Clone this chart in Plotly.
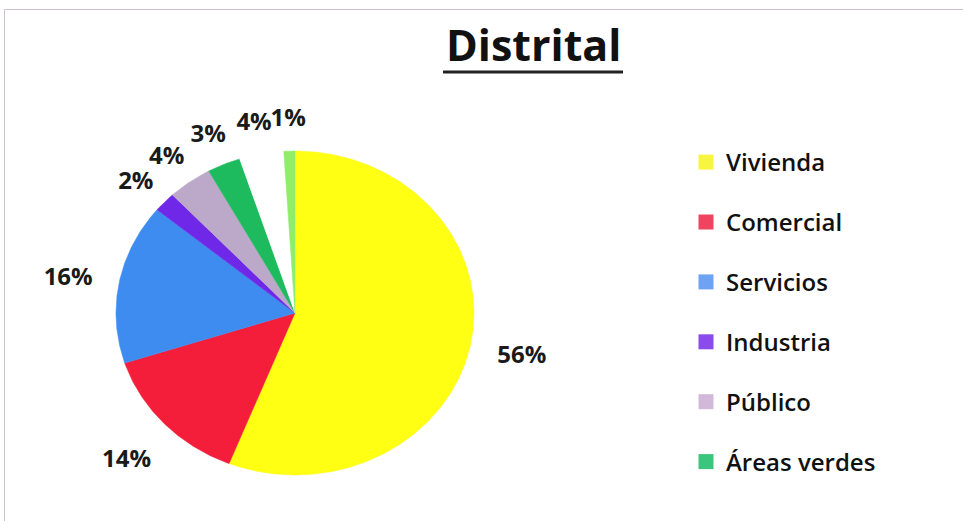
import numpy as np
import plotly.graph_objects as go

# Uso de suelo distrital (%)
categorias = ["Vivienda", "Comercial", "Servicios", "Industria", "Público",
              "Áreas verdes", "Otros", "Vías"]
porcentajes = [56, 14, 16, 2, 4, 3, 4, 1]
en_leyenda = [True, True, True, True, True, True, False, False]
etiquetas = [f"{v}%" for v in porcentajes]

colores_sector = ["#FFFF14", "#F41E3A", "#3E8CF0", "#7028E8", "#BCA8C8",
                  "#1DBB5E", "#FFFFFF", "#8EEE6A"]
colores_leyenda = ["#F8F540", "#F0435F", "#6EA2F2", "#8B4BEA", "#D3B9D9",
                   "#3CC57C", "#FFFFFF", "#8EEE6A"]

fig = go.Figure()

# Sectors drawn clockwise from 12 o'clock on a stretched (elliptical) axis pair
total = float(sum(porcentajes))
inicio = 0.0
for nombre, v, col in zip(categorias, porcentajes, colores_sector):
    a0 = inicio / total * 2 * np.pi
    a1 = (inicio + v) / total * 2 * np.pi
    t = np.linspace(a0, a1, max(4, int(v * 6)))
    xs = np.concatenate([[0.0], np.sin(t), [0.0]])
    ys = np.concatenate([[0.0], np.cos(t), [0.0]])
    fig.add_trace(go.Scatter(
        x=xs, y=ys, mode="lines", fill="toself", fillcolor=col,
        line=dict(color=col, width=0.5), showlegend=False,
        hoverinfo="skip", name=nombre))
    inicio += v

# Percentage labels outside each sector
inicio = 0.0
lx, ly = [], []
for v in porcentajes:
    m = (inicio + v / 2) / total * 2 * np.pi
    f = 1.29 if v >= 5 else 1.22
    lx.append(f * np.sin(m))
    ly.append(f * np.cos(m) - 0.03)
    inicio += v
fig.add_trace(go.Scatter(
    x=lx, y=ly, mode="text", text=etiquetas, showlegend=False,
    hoverinfo="skip",
    textfont=dict(family="Open Sans", size=24, color="#1a1a1a", weight="bold")))

# Legend entries
for i, (nombre, col, vis) in enumerate(zip(categorias, colores_leyenda, en_leyenda)):
    if not vis:
        continue
    fig.add_trace(go.Scatter(
        x=[None], y=[None], mode="markers", name=nombre,
        legendgroup=f"g{i}",
        marker=dict(symbol="square", size=15, color=col)))

fig.update_layout(
    width=963, height=521,
    margin=dict(l=0, r=0, t=0, b=0),
    paper_bgcolor="white", plot_bgcolor="white",
    xaxis=dict(range=[-1.648, 3.732], visible=False, fixedrange=True),
    yaxis=dict(range=[-1.284, 1.932], visible=False, fixedrange=True),
    legend=dict(
        x=686 / 963, y=1 - 140 / 521, xanchor="left", yanchor="top",
        font=dict(family="Open Sans", size=24, color="#111111", weight=600),
        tracegroupgap=25.7, itemsizing="trace", bgcolor="rgba(0,0,0,0)"),
    annotations=[dict(
        text="Distrital", x=533 / 963, y=1 - 44 / 521,
        xref="paper", yref="paper", showarrow=False,
        xanchor="center", yanchor="middle",
        font=dict(family="Open Sans", size=43, color="#111111", weight="bold"))],
    shapes=[
        dict(type="line", xref="paper", yref="paper",
             x0=443 / 963, x1=623 / 963, y0=1 - 72 / 521, y1=1 - 72 / 521,
             line=dict(color="#222222", width=3)),
        dict(type="rect", xref="paper", yref="paper",
             x0=4.5 / 963, x1=1.02, y0=-0.02, y1=1 - 9.5 / 521,
             line=dict(color="#cbc3cb", width=1)),
    ],
)

fig.write_html("out.html")
